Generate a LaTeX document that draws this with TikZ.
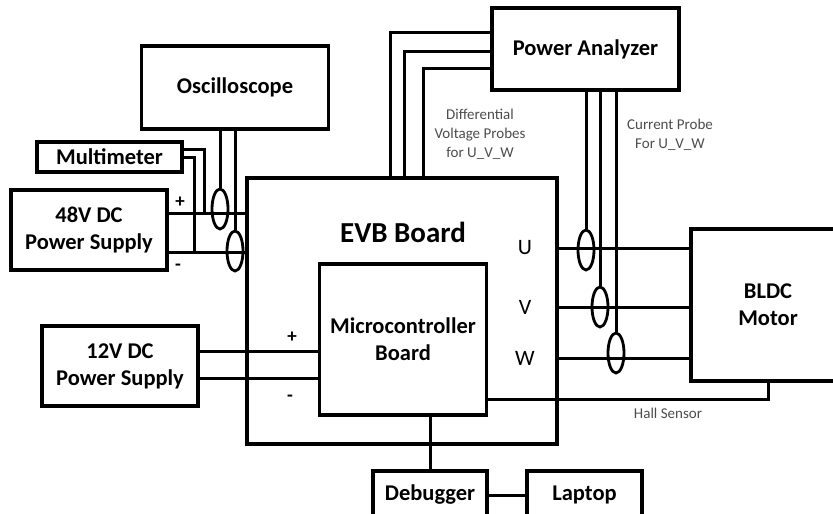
\documentclass[tikz,border=0pt]{standalone}
\usepackage{fontspec}
\setmainfont{Carlito}
\usetikzlibrary{shapes.geometric, calc}

\newcommand{\boxfont}{\fontsize{22.5}{27}\selectfont\bfseries}
\newcommand{\notefont}{\fontsize{15}{19}\selectfont}

\begin{document}
\begin{tikzpicture}[x=1pt, y=-1pt,
  box/.style={draw, line width=3.2pt, inner sep=0pt, align=center, font=\boxfont},
  probe/.style={draw, ellipse, line width=2.8pt, minimum width=16pt, minimum height=40pt, inner sep=0pt},
  wire/.style={line width=3pt},
  note/.style={text=black!70, align=center, font=\notefont},
  pin/.style={font=\fontsize{22}{26}\selectfont},
  sign/.style={font=\fontsize{19}{20}\selectfont\bfseries},
]
\useasboundingbox (0,0) rectangle (833,514);
\clip (0,0) rectangle (833,514);

% instruments
\node[box, minimum width=187pt, minimum height=83pt] (osc) at (235,87.5) {Oscilloscope};
\node[box, minimum width=145pt, minimum height=30pt] (mm) at (109.5,157) {Multimeter};
\node[box, minimum width=156pt, minimum height=80pt] (ps48) at (89,230) {48V DC\\Power Supply};
\node[box, minimum width=187pt, minimum height=82pt] (pa) at (585.5,49) {Power Analyzer};
\node[box, minimum width=156pt, minimum height=80pt] (ps12) at (120,366) {12V DC\\Power Supply};

% boards and motor
\node[box, minimum width=310pt, minimum height=266pt] (evb) at (402,311) {};
\node[font=\fontsize{29}{34}\selectfont\bfseries] (evbname) at (403,232) {EVB Board};
\node[box, minimum width=167pt, minimum height=151pt] (mcu) at (403,339.5) {Microcontroller\\Board};
\node[box, minimum width=154pt, minimum height=152pt] (motor) at (768,305) {BLDC\\Motor};
\node[box, minimum width=114pt, minimum height=48pt] (dbg) at (430,495) {Debugger};
\node[box, minimum width=115pt, minimum height=48pt] (lap) at (584.5,495) {Laptop};

% clamps
\node[probe] (clP) at (220,209) {};
\node[probe] (clN) at (235,251) {};
\node[probe] (clU) at (586,250) {};
\node[probe] (clV) at (600,307) {};
\node[probe] (clW) at (616,353) {};

% labels
\node[pin] (pU) at (525,248) {U};
\node[pin] (pV) at (525,307) {V};
\node[pin] (pW) at (525,358) {W};
\node[sign] (plusA) at (180,202) {+};
\node[sign] (minusA) at (178,267) {-};
\node[sign] (plusB) at (292,337) {+};
\node[sign] (minusB) at (290,398) {-};
\node[note] (dvp) at (480,134) {Differential\\Voltage Probes\\for U\_V\_W};
\node[note] (cp) at (670,135) {Current Probe\\For U\_V\_W};
\node[note] (hall) at (668,413) {Hall Sensor};

% 48V supply and meters
\draw[wire] ([yshift=17pt]ps48.east) -- ([yshift=17pt]ps48.east -| evb.west);
\draw[wire] ([yshift=-22pt]ps48.east) -- ([yshift=-22pt]ps48.east -| evb.west);
\draw[wire] ([yshift=8pt]mm.east) -| ([shift={(36pt,17pt)}]ps48.east);
\draw[wire] (mm.east) -| ([shift={(26pt,-22pt)}]ps48.east);
\draw[wire] (clP |- osc.south) -- (clP.north);
\draw[wire] (clN |- osc.south) -- (clN.north);

% power analyzer probes
\draw[wire] ([yshift=17pt]pa.west) -| ([xshift=-12pt]evb.north);
\draw[wire] ([yshift=-2pt]pa.west) -| ([xshift=2pt]evb.north);
\draw[wire] ([yshift=-19pt]pa.west) -| ([xshift=21pt]evb.north);
\foreach \c in {clU, clV, clW}
  \draw[wire] (\c |- pa.south) -- (\c.north);

% phases, hall sensor
\foreach \p in {pU, pV, pW}
  \draw[wire] (\p -| evb.east) -- (\p -| motor.west);
\draw[wire] ([yshift=17.5pt]mcu.south east) -| (motor.south);

% 12V supply, debugger
\draw[wire] ([yshift=15pt]ps12.east) -- ([yshift=15pt]ps12.east -| mcu.west);
\draw[wire] ([yshift=-12pt]ps12.east) -- ([yshift=-12pt]ps12.east -| mcu.west);
\draw[wire] (dbg.north) -- (dbg.north |- mcu.south);
\draw[wire] (dbg) -- (lap);
\end{tikzpicture}
\end{document}
